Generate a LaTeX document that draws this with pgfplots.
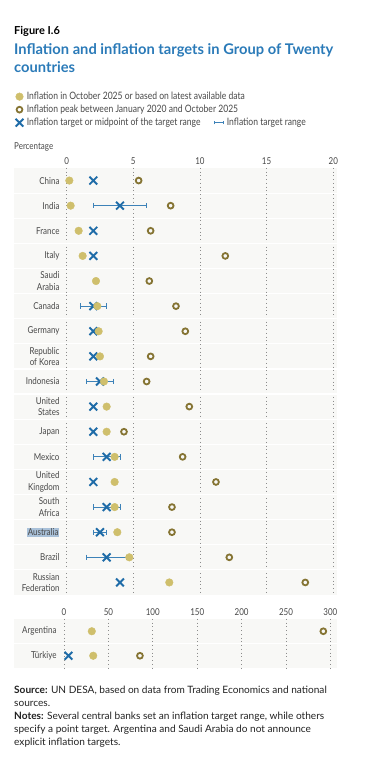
\documentclass[border=0pt]{standalone}
\usepackage{pgfplots}
\pgfplotsset{compat=1.18}
\usepackage{fontspec}
\setmainfont{Lato}
\newfontfamily\condfont[FakeStretch=0.84]{Lato}
\definecolor{titleblue}{HTML}{2A7AB8}
\definecolor{dotfill}{HTML}{CFBF6C}
\definecolor{peakedge}{HTML}{857433}
\definecolor{crossblue}{HTML}{1F6CA8}
\definecolor{rangeblue}{HTML}{3D82B8}
\definecolor{panelbg}{HTML}{F8F8F6}
\definecolor{gridgray}{HTML}{8C8C8C}
\definecolor{labelgray}{HTML}{474747}
\definecolor{selblue}{HTML}{A9C1D9}
\definecolor{textdark}{HTML}{222222}

\pgfplotsset{
  curstyle/.style={only marks, color=dotfill, mark=*, mark size=3.8pt, mark options={fill=dotfill, draw=dotfill, line width=0.4pt, solid}},
  peakstyle/.style={only marks, color=peakedge, mark=o, mark size=2.9pt, mark options={draw=peakedge, line width=1.8pt, fill=none, solid}},
  crossstyle/.style={only marks, color=crossblue, mark=x, mark size=5.5pt, mark options={draw=crossblue, line width=1.9pt, solid}},
  rangestyle/.style={color=rangeblue, line width=0.85pt, mark=|, mark size=2.7pt, mark options={solid, line width=0.85pt}},
  dotleg/.style={legend image code/.code={\draw[##1] plot coordinates {(4.5pt,0pt)};}},
  rangeleg/.style={legend image code/.code={\draw[rangeblue, line width=0.8pt] (0pt,0pt) -- (9pt,0pt) (0pt,-1.8pt) -- (0pt,1.8pt) (9pt,-1.8pt) -- (9pt,1.8pt);}},
  panel/.style={scale only axis, width=323pt,
    axis background/.style={fill=panelbg},
    axis line style={draw=none}, tick style={draw=none}, major tick length=0pt,
    xticklabel pos=upper, xmajorgrids,
    grid style={gridgray, line width=0.75pt, dash pattern=on 0.75pt off 3pt},
    y dir=reverse, ymin=0.5, clip=false,
    ticklabel style={font=\condfont\fontsize{9.5}{11.5}\selectfont, text=labelgray},
    /pgf/number format/assume math mode=true,
    yticklabel style={align=right},
    extra y tick style={ymajorgrids=true, major grid style={solid, white, line width=1.2pt}},
  },
}

\begin{document}
\begin{tikzpicture}
\useasboundingbox (0pt,0pt) rectangle (387pt,760pt);

% Titles
\node[anchor=base west, inner sep=0pt, text=black, font=\bfseries\fontsize{11}{13}\selectfont] at (14pt,725.7pt) {Figure I.6};
\node[anchor=base west, inner sep=0pt, text=titleblue, font=\bfseries\fontsize{14.7}{17}\selectfont] at (14pt,705.7pt) {Inflation and inflation targets in Group of Twenty};
\node[anchor=base west, inner sep=0pt, text=titleblue, font=\bfseries\fontsize{14.7}{17}\selectfont] at (14pt,687.3pt) {countries};
\node[anchor=base west, inner sep=0pt, text=labelgray, font=\condfont\fontsize{9.5}{11}\selectfont] at (14pt,610.7pt) {Percentage};

% Top panel
\begin{axis}[panel, at={(14pt,165pt)}, anchor=south west, height=427pt,
  xmin=-3.95, xmax=20.28, ymax=17.5,
  xtick={0,5,10,15,20},
  ytick={1,...,17},
  yticklabels={China, India, France, Italy, {Saudi\\Arabia}, Canada, Germany, {Republic\\of Korea}, Indonesia, {United\\States}, Japan, Mexico, {United\\Kingdom}, {South\\Africa}, {\setlength{\fboxsep}{1pt}\colorbox{selblue}{Australia}}, Brazil, {Russian\\Federation}},
  yticklabel style={xshift=49pt},
  extra y ticks={1.5,2.5,...,16.5}, extra y tick labels={},
  legend style={at={(axis description cs:0.005,1.180)}, anchor=north west, draw=none, fill=none, inner sep=0pt, outer sep=0pt,
    legend columns=2, font=\condfont\fontsize{10.2}{12}\selectfont, text=labelgray, row sep=2pt,
    /tikz/every odd column/.append style={column sep=2.5pt},
    /tikz/every even column/.append style={column sep=12pt}, nodes={inner sep=1pt}},
  legend cell align=left,
]
\addlegendimage{curstyle, dotleg}
\addlegendentry{\rlap{Inflation in October 2025 or based on latest available data}}
\addlegendimage{empty legend}
\addlegendentry{}
\addlegendimage{peakstyle, dotleg}
\addlegendentry{\rlap{Inflation peak between January 2020 and October 2025}}
\addlegendimage{empty legend}
\addlegendentry{}
\addlegendimage{crossstyle, dotleg}
\addlegendentry{Inflation target or midpoint of the target range}
\addlegendimage{rangeleg}
\addlegendentry{Inflation target range}

% target ranges (low, high)
\addplot[forget plot, rangestyle] coordinates {(2,2) (6,2)};
\addplot[forget plot, rangestyle] coordinates {(1,6) (3,6)};
\addplot[forget plot, rangestyle] coordinates {(1.5,9) (3.5,9)};
\addplot[forget plot, rangestyle] coordinates {(2,12) (4,12)};
\addplot[forget plot, rangestyle] coordinates {(2,14) (4,14)};
\addplot[forget plot, rangestyle] coordinates {(2,15) (3,15)};
\addplot[forget plot, rangestyle] coordinates {(1.5,16) (4.5,16)};
% targets
\addplot[forget plot, crossstyle] coordinates {(2,1) (4,2) (2,3) (2,4) (2,6) (2,7) (2,8) (2.5,9) (2,10) (2,11) (3,12) (2,13) (3,14) (2.5,15) (3,16) (4,17)};
% current
\addplot[forget plot, curstyle] coordinates {(0.2,1) (0.3,2) (0.9,3) (1.2,4) (2.2,5) (2.3,6) (2.4,7) (2.5,8) (2.8,9) (3.0,10) (3.0,11) (3.6,12) (3.6,13) (3.6,14) (3.8,15) (4.7,16) (7.7,17)};
% peak
\addplot[forget plot, peakstyle] coordinates {(5.4,1) (7.8,2) (6.3,3) (11.9,4) (6.2,5) (8.2,6) (8.9,7) (6.3,8) (6.0,9) (9.2,10) (4.3,11) (8.7,12) (11.2,13) (7.9,14) (7.9,15) (12.2,16) (17.9,17)};
\end{axis}

% Bottom panel
\begin{axis}[panel, at={(14pt,92pt)}, anchor=south west, height=49pt,
  xmin=-56.3, xmax=307.4, ymax=2.5,
  xtick={0,50,...,300},
  ytick={1,2}, yticklabels={Argentina, Türkiye},
  yticklabel style={xshift=46pt},
  extra y ticks={1.5}, extra y tick labels={},
]
\addplot[forget plot, crossstyle] coordinates {(5,2)};
\addplot[forget plot, curstyle] coordinates {(31.3,1) (32.9,2)};
\addplot[forget plot, peakstyle] coordinates {(292,1) (85.5,2)};
\end{axis}

% Source and notes
\begin{scope}[every node/.style={anchor=base west, inner sep=0pt, text=textdark, font=\fontsize{10.1}{12}\selectfont}]
\node at (14pt,66.7pt) {\textbf{Source:} UN DESA, based on data from Trading Economics and national};
\node at (14pt,53.7pt) {sources.};
\node at (14pt,40.8pt) {\textbf{Notes:} Several central banks set an inflation target range, while others};
\node at (14pt,27.8pt) {specify a point target. Argentina and Saudi Arabia do not announce};
\node at (14pt,14.8pt) {explicit inflation targets.};
\end{scope}
\end{tikzpicture}
\end{document}
